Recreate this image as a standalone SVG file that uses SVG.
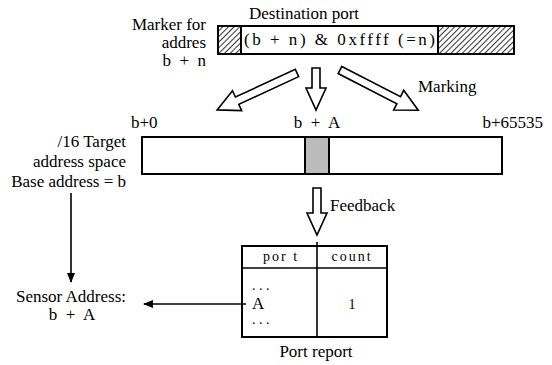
<svg xmlns="http://www.w3.org/2000/svg" width="552" height="365" viewBox="0 0 552 365" font-family="'Liberation Serif','Times New Roman','DejaVu Serif',serif">
<style>
text{font-family:"Liberation Serif","Times New Roman","DejaVu Serif",serif;fill:#000;font-size:17px}
.sm{font-size:14px}
.sp{letter-spacing:2px}
.box{fill:#fff;stroke:#000;stroke-width:2}
.hol{fill:#fff;stroke:#000;stroke-width:1.6;stroke-linejoin:miter}
.ln{stroke:#000;stroke-width:1.6;fill:none}
</style>
<defs>
<pattern id="hatch" patternUnits="userSpaceOnUse" width="4" height="4" patternTransform="rotate(45)">
<line x1="0" y1="0" x2="0" y2="4" stroke="#000" stroke-width="1.6"/>
</pattern>
<marker id="ah" viewBox="0 0 10 10" refX="9" refY="5" markerWidth="10" markerHeight="10" markerUnits="userSpaceOnUse" orient="auto">
<path d="M0,1 L10,5 L0,9 Z" fill="#000"/>
</marker>
</defs>

<g id="dest-port">
<rect x="218" y="26" width="296" height="28" class="box"/>
<rect x="218" y="26" width="23" height="28" fill="url(#hatch)" stroke="#000" stroke-width="2"/>
<rect x="438" y="26" width="76" height="28" fill="url(#hatch)" stroke="#000" stroke-width="2"/>
<text x="249" y="19">Destination  port</text>
<text x="244" y="45" textLength="191" lengthAdjust="spacing">(b + n)  &amp; 0xffff  (=n)</text>
</g>

<g id="marker-label">
<text x="206" y="30" text-anchor="end">Marker for</text>
<text x="206" y="48" text-anchor="end">addres</text>
<text x="206" y="66" text-anchor="end" xml:space="preserve">b  +  n</text>
</g>

<g id="marking-arrows">
<path class="hol" transform="translate(297,73) rotate(155.2)" d="M0,-4 H66 V-11 L88,0 L66,11 V4 H0 Z"/>
<path class="hol" d="M312,68 H320 V88 H326 L316,110 L306,88 H312 Z"/>
<path class="hol" transform="translate(340,70) rotate(27.2)" d="M0,-4 H66 V-11 L88,0 L66,11 V4 H0 Z"/>
<text x="418" y="92">Marking</text>
</g>

<g id="target-space">
<rect x="142" y="137" width="360" height="37" class="box"/>
<rect x="305" y="137" width="24" height="37" fill="#bbb" stroke="#000" stroke-width="2"/>
<text x="131" y="128">b+0</text>
<text x="317" y="128" text-anchor="middle" xml:space="preserve">b  +  A</text>
<text x="543" y="128" text-anchor="end">b+65535</text>
<text x="126" y="147" text-anchor="end">/16 Target</text>
<text x="126" y="167" text-anchor="end">address space</text>
<text x="126" y="187" text-anchor="end">Base address = b</text>
</g>

<g id="feedback">
<path class="hol" d="M313,188 H321 V213 H327 L317,235 L307,213 H313 Z"/>
<text x="330" y="211">Feedback</text>
</g>

<g id="port-report">
<rect x="242" y="246" width="145" height="91" class="box"/>
<line x1="242" y1="268" x2="387" y2="268" class="ln" stroke-width="2"/>
<line x1="317" y1="242" x2="317" y2="337" class="ln" stroke-width="2"/>
<text class="sm sp" x="281" y="261" text-anchor="middle">por t</text>
<text class="sm sp" x="352" y="261" text-anchor="middle">count</text>
<text class="sm" x="252" y="290" xml:space="preserve">. . .</text>
<text x="252" y="309">A</text>
<text class="sm" x="252" y="324" xml:space="preserve">. . .</text>
<text class="sm" x="352" y="309" text-anchor="middle">1</text>
<text x="316" y="357" text-anchor="middle">Port report</text>
</g>

<g id="sensor">
<text x="71" y="302" text-anchor="middle">Sensor Address:</text>
<text x="72" y="320" text-anchor="middle" xml:space="preserve">b  +  A</text>
</g>

<g id="connectors">
<line x1="71" y1="193" x2="71" y2="282" class="ln" marker-end="url(#ah)"/>
<line x1="246" y1="304" x2="144" y2="304" class="ln" marker-end="url(#ah)"/>
</g>
</svg>
